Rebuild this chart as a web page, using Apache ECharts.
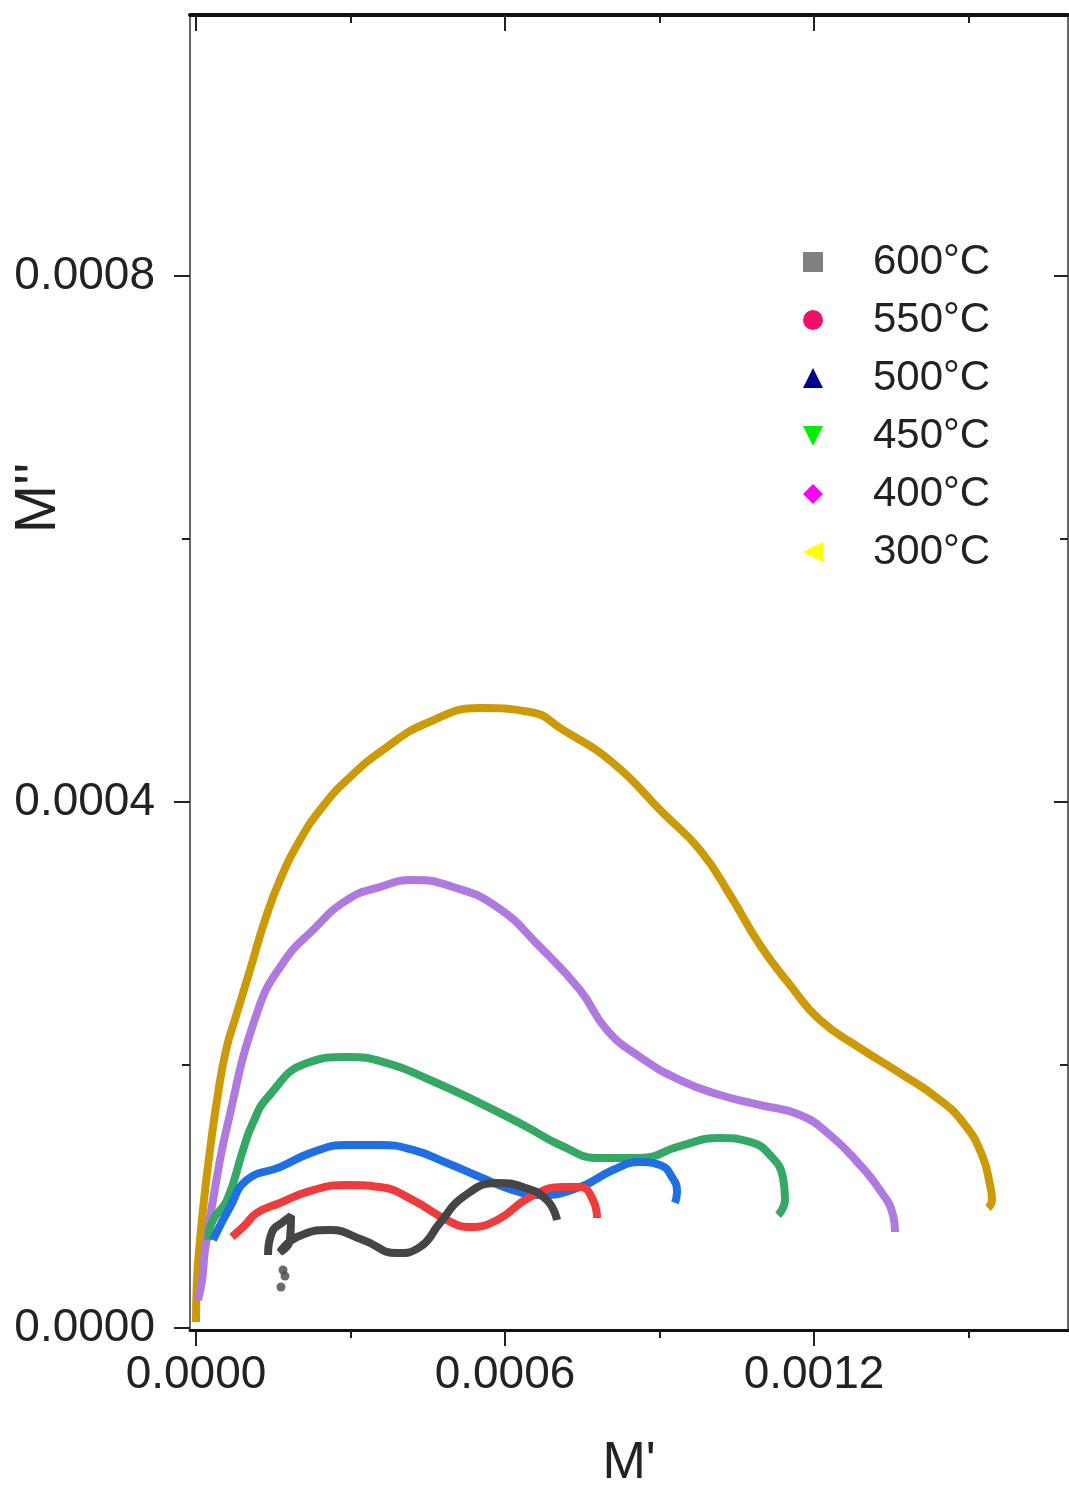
<!DOCTYPE html>
<html>
<head>
<meta charset="utf-8">
<script src="https://cdn.jsdelivr.net/npm/echarts@6/dist/echarts.min.js"></script>
<style>
html,body{margin:0;padding:0;background:#fff;}
#chart{width:1069px;height:1490px;}
</style>
</head>
<body>
<div id="chart"></div>
<script>
// Series names (legend order)
const seriesNames = ['600°C', '550°C', '500°C', '450°C', '400°C', '300°C'];

// Tick positions / labels
const xMajorTicks = [0, 0.0006, 0.0012];
const xMinorTicks = [0.0003, 0.0009, 0.0015];
const yMajorTicks = [0, 0.0004, 0.0008];
const yMinorTicks = [0.0002, 0.0006];

// Data: [M', M'']
const data600 = [
  [1.398e-4, 5.55e-5], [1.476e-4, 7.30e-5], [1.689e-4, 8.06e-5], [1.845e-4, 8.52e-5],
  [1.825e-4, 6.69e-5], [1.631e-4, 5.78e-5], [1.961e-4, 6.92e-5], [2.602e-4, 7.45e-5],
  [3.243e-4, 6.69e-5], [3.903e-4, 5.70e-5], [4.349e-4, 6.16e-5], [4.738e-4, 7.99e-5],
  [5.184e-4, 9.96e-5], [5.845e-4, 1.103e-4], [6.349e-4, 1.072e-4], [6.815e-4, 9.73e-5],
  [7.010e-4, 8.21e-5]
];
const dots600 = [[1.689e-4, 4.41e-5], [1.728e-4, 3.95e-5], [1.650e-4, 3.12e-5]];
const data550 = [
  [6.99e-5, 6.92e-5], [9.51e-5, 7.83e-5], [1.184e-4, 8.75e-5], [1.631e-4, 9.51e-5],
  [2.272e-4, 1.049e-4], [2.932e-4, 1.088e-4], [3.573e-4, 1.072e-4], [4.213e-4, 9.73e-5],
  [4.874e-4, 8.21e-5], [5.320e-4, 7.68e-5], [5.845e-4, 8.21e-5], [6.485e-4, 9.96e-5],
  [7.126e-4, 1.072e-4], [7.456e-4, 1.072e-4], [7.709e-4, 9.73e-5], [7.786e-4, 8.37e-5]
];
const data500 = [
  [3.30e-5, 6.69e-5], [6.60e-5, 9.20e-5], [9.90e-5, 1.126e-4], [1.631e-4, 1.224e-4],
  [2.272e-4, 1.338e-4], [2.932e-4, 1.392e-4], [3.573e-4, 1.392e-4], [4.213e-4, 1.354e-4],
  [4.874e-4, 1.255e-4], [5.514e-4, 1.148e-4], [6.155e-4, 1.049e-4], [6.679e-4, 1.011e-4],
  [7.456e-4, 1.072e-4], [8.097e-4, 1.202e-4], [8.621e-4, 1.262e-4], [9.010e-4, 1.240e-4],
  [9.243e-4, 1.148e-4], [9.340e-4, 1.034e-4], [9.301e-4, 9.51e-5]
];
const data450 = [
  [2.33e-5, 6.69e-5], [3.30e-5, 8.21e-5], [6.02e-5, 9.73e-5],
  [9.13e-5, 1.354e-4], [1.087e-4, 1.544e-4], [1.398e-4, 1.757e-4], [2.155e-4, 2.015e-4],
  [2.932e-4, 2.061e-4], [3.709e-4, 2.015e-4], [4.544e-4, 1.886e-4], [5.514e-4, 1.711e-4],
  [6.427e-4, 1.529e-4], [7.068e-4, 1.392e-4], [7.844e-4, 1.293e-4], [8.621e-4, 1.293e-4],
  [9.398e-4, 1.384e-4], [1.0175e-3, 1.445e-4], [1.0757e-3, 1.415e-4], [1.1145e-3, 1.316e-4],
  [1.1398e-3, 1.141e-4], [1.1437e-3, 9.73e-5], [1.1301e-3, 8.59e-5]
];
const data400 = [
  [3.9e-6, 2.13e-5], [1.17e-5, 3.65e-5], [1.75e-5, 5.93e-5], [3.30e-5, 9.73e-5],
  [6.02e-5, 1.529e-4], [1.184e-4, 2.396e-4], [1.689e-4, 2.776e-4], [2.272e-4, 3.027e-4],
  [2.932e-4, 3.255e-4], [3.573e-4, 3.354e-4], [4.213e-4, 3.407e-4], [4.990e-4, 3.354e-4],
  [5.845e-4, 3.202e-4], [6.679e-4, 2.898e-4], [7.456e-4, 2.570e-4], [7.980e-4, 2.266e-4],
  [8.621e-4, 2.061e-4], [9.398e-4, 1.886e-4], [1.0175e-3, 1.772e-4], [1.0951e-3, 1.696e-4],
  [1.1728e-3, 1.620e-4], [1.2310e-3, 1.468e-4], [1.2893e-3, 1.240e-4], [1.3281e-3, 1.049e-4],
  [1.3534e-3, 8.59e-5], [1.3573e-3, 7.30e-5]
];
const data300 = [
  [0, 4.6e-6], [1.9e-6, 3.65e-5], [7.8e-6, 6.69e-5], [1.55e-5, 9.73e-5],
  [2.72e-5, 1.354e-4], [4.08e-5, 1.734e-4], [5.83e-5, 2.114e-4], [7.96e-5, 2.396e-4],
  [1.049e-4, 2.723e-4], [1.340e-4, 3.103e-4], [1.631e-4, 3.407e-4], [2.019e-4, 3.711e-4],
  [2.408e-4, 3.939e-4], [2.932e-4, 4.168e-4], [3.709e-4, 4.419e-4], [4.485e-4, 4.601e-4],
  [5.514e-4, 4.715e-4], [6.485e-4, 4.685e-4], [7.126e-4, 4.548e-4], [8.097e-4, 4.297e-4],
  [9.068e-4, 3.917e-4], [9.786e-4, 3.635e-4], [1.0369e-3, 3.293e-4], [1.0951e-3, 2.913e-4],
  [1.1534e-3, 2.609e-4], [1.2116e-3, 2.342e-4], [1.2893e-3, 2.129e-4], [1.3669e-3, 1.939e-4],
  [1.4446e-3, 1.734e-4], [1.4932e-3, 1.544e-4], [1.5262e-3, 1.316e-4], [1.5417e-3, 1.088e-4],
  [1.5456e-3, 9.73e-5], [1.5378e-3, 9.13e-5]
];

const lineColors = ['#454545', '#EE3B3B', '#1F6FE3', '#35A865', '#B079E0', '#CC9A06'];
const legendColors = ['#808080', '#F0106A', '#000090', '#00EE00', '#FF00FF', '#FFFF00'];
const legendIcons = [
  'rect', 'circle', 'triangle',
  'path://M0,0 L10,0 L5,10 Z',
  'diamond',
  'path://M10,0 L10,10 L0,5 Z'
];

const FONT = '"Liberation Sans", Arial, sans-serif';
const X_MIN = -1.165e-5, X_MAX = 1.6932e-3;
const Y_MIN = -1.5e-6, Y_MAX = 9.985e-4;

function fmt(v) { return Math.abs(v) < 1e-12 ? '0.0000' : v.toFixed(4); }

function xAxisDef(pos, ticks, len, showLabel, inside, lineW, lineColor, showLine) {
  return {
    type: 'value', position: pos, min: X_MIN, max: X_MAX,
    axisLine: { show: showLine, onZero: false, lineStyle: { color: lineColor, width: lineW } },
    axisTick: { show: true, inside: inside, length: len, customValues: ticks, lineStyle: { color: '#222', width: 2 } },
    axisLabel: { show: showLabel, customValues: ticks, formatter: fmt, margin: 22,
      fontSize: 46, fontFamily: FONT, color: '#222' },
    splitLine: { show: false }
  };
}
function yAxisDef(pos, ticks, len, showLabel, inside, lineW, lineColor, showLine) {
  return {
    type: 'value', position: pos, min: Y_MIN, max: Y_MAX,
    axisLine: { show: showLine, onZero: false, lineStyle: { color: lineColor, width: lineW } },
    axisTick: { show: true, inside: inside, length: len, customValues: ticks, lineStyle: { color: '#222', width: 2 } },
    axisLabel: { show: showLabel, customValues: ticks, formatter: fmt, margin: 35,
      fontSize: 46, fontFamily: FONT, color: '#222' },
    splitLine: { show: false }
  };
}

const xAxes = [
  xAxisDef('bottom', xMajorTicks, 16, true, false, 3, '#111', true),
  xAxisDef('bottom', xMinorTicks, 8, false, false, 3, '#111', false),
  xAxisDef('top', xMajorTicks, 16, false, true, 4, '#111', true),
  xAxisDef('top', xMinorTicks, 8, false, true, 4, '#111', false)
];
xAxes[0].name = "M'";
xAxes[0].nameLocation = 'middle';
xAxes[0].nameGap = 108;
xAxes[0].nameTextStyle = { fontSize: 52, fontFamily: FONT, color: '#222' };

const yAxes = [
  yAxisDef('left', yMajorTicks, 16, true, false, 2, '#666', true),
  yAxisDef('left', yMinorTicks, 8, false, false, 2, '#666', false),
  yAxisDef('right', yMajorTicks.slice(1), 14, false, true, 2, '#666', true),
  yAxisDef('right', yMinorTicks, 8, false, true, 2, '#666', false)
];

const curves = [data600, data550, data500, data450, data400, data300];
const series = curves.map((d, i) => ({
  name: seriesNames[i], type: 'line', data: d, xAxisIndex: 0, yAxisIndex: 0,
  showSymbol: false, smooth: 0.5, color: lineColors[i],
  lineStyle: { width: 8, color: lineColors[i] }, z: 10 - i
}));
series.push({
  name: seriesNames[0], type: 'scatter', data: dots600, xAxisIndex: 0, yAxisIndex: 0,
  symbol: 'circle', symbolSize: 9, itemStyle: { color: lineColors[0] }
});

const chart = echarts.init(document.getElementById('chart'), null, { renderer: 'canvas' });
chart.setOption({
  animation: false,
  backgroundColor: '#fff',
  grid: { left: 190, top: 15, width: 878, height: 1315, containLabel: false, outerBoundsMode: 'none' },
  xAxis: xAxes,
  yAxis: yAxes,
  legend: {
    orient: 'vertical', left: 798, top: 236,
    itemWidth: 20, itemHeight: 20, itemGap: 16,
    textStyle: { fontSize: 42, fontFamily: FONT, color: '#222', padding: [0, 0, 0, 45] },
    data: seriesNames.map((n, i) => ({
      name: n, icon: legendIcons[i],
      itemStyle: { color: legendColors[i], borderWidth: 0 }
    }))
  },
  graphic: [{
    type: 'text', x: 39, y: 498, rotation: Math.PI / 2,
    style: { text: "M''", font: '58px ' + FONT, fill: '#222', textAlign: 'center', textVerticalAlign: 'middle' }
  }],
  series: series
});
</script>
</body>
</html>
